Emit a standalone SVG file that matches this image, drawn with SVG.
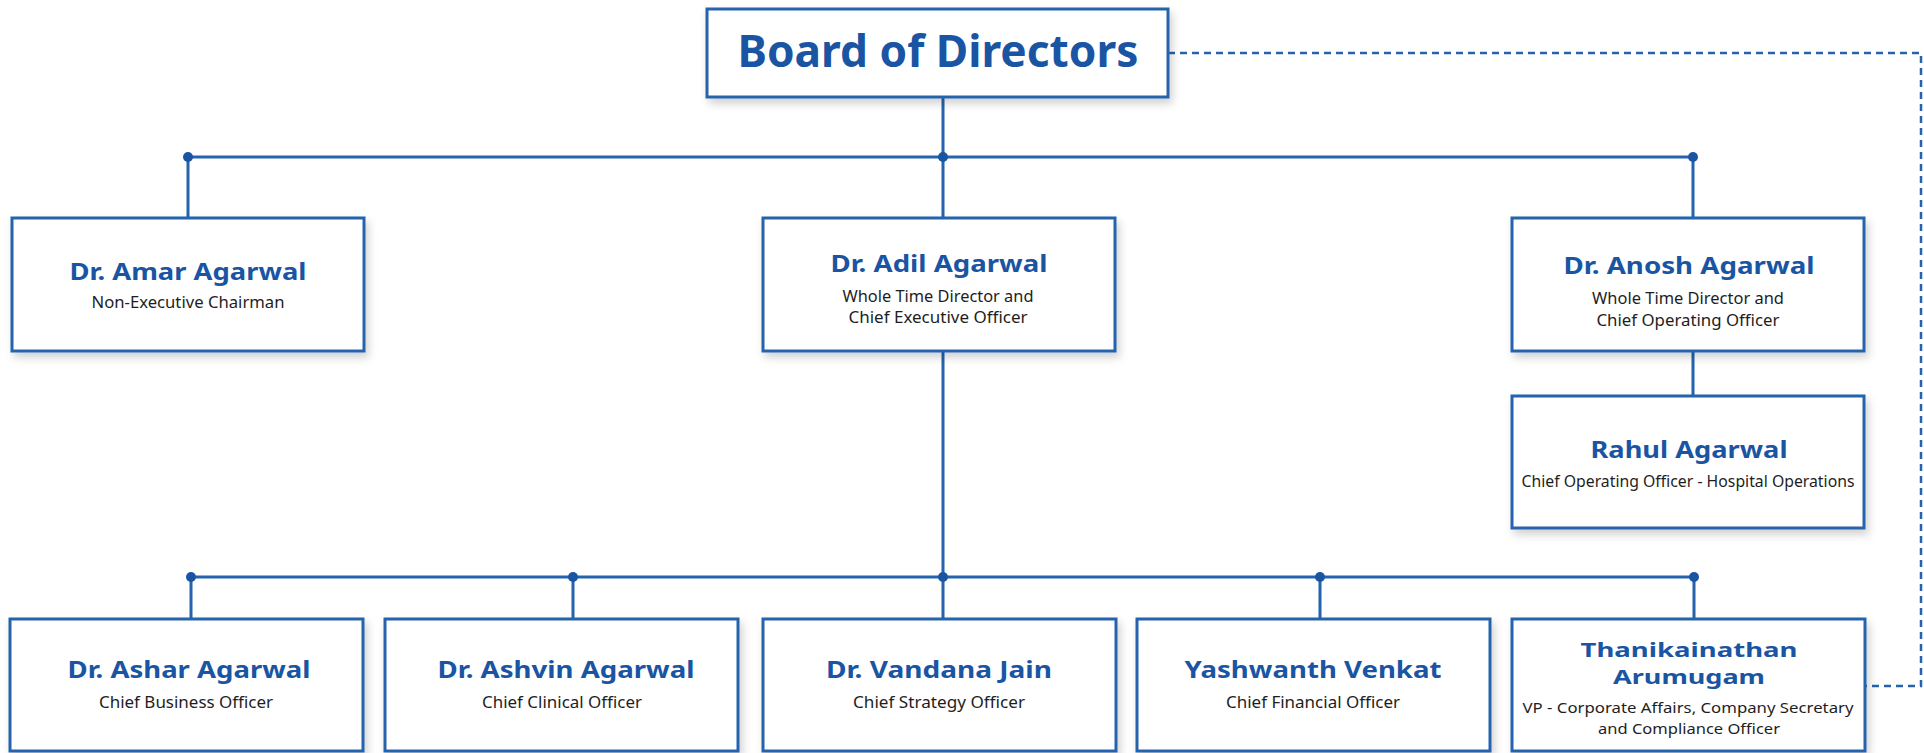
<svg xmlns="http://www.w3.org/2000/svg" width="1924" height="753" viewBox="0 0 1924 753">
<defs>
<filter id="sh" x="-5%" y="-5%" width="112%" height="120%">
<feDropShadow dx="3" dy="5" stdDeviation="4" flood-color="#000" flood-opacity="0.18"/>
</filter>
</defs>
<style>
.box{fill:#fff;stroke:#2563ad;stroke-width:3;filter:url(#sh)}
.t{font-family:"Noto Sans","Open Sans",sans-serif;font-weight:700;fill:#1a55a3;font-size:24px;text-anchor:middle}
.s{font-family:"Noto Sans","Open Sans",sans-serif;font-weight:400;fill:#1e1e1e;font-size:16px;text-anchor:middle}
.sm{font-size:14.5px}
.tm{font-size:20px}
.big{font-size:44px}
.ln{fill:none;stroke:#2563ad;stroke-width:3}
.dash{fill:none;stroke:#2563ad;stroke-width:2.5;stroke-dasharray:7 5}
.dot{fill:#1a55a3}
</style>
<rect width="1924" height="753" fill="#fff"/>
<g id="connectors">
<path class="ln" d="M943 97V157M188 157H1693M188 157V218M943 157V218M1693 157V218M1693 351V396M943 351V577M191 577H1694M191 577V619M573 577V619M943 577V619M1320 577V619M1694 577V619"/>
<path class="dash" d="M1168 53H1921V686H1866"/>
<circle class="dot" cx="188" cy="157" r="5"/>
<circle class="dot" cx="943" cy="157" r="5"/>
<circle class="dot" cx="1693" cy="157" r="5"/>
<circle class="dot" cx="191" cy="577" r="5"/>
<circle class="dot" cx="573" cy="577" r="5"/>
<circle class="dot" cx="943" cy="577" r="5"/>
<circle class="dot" cx="1320" cy="577" r="5"/>
<circle class="dot" cx="1694" cy="577" r="5"/>
</g>
<g id="board">
<rect class="box" x="707" y="9" width="461" height="88"/>
<text class="t big" x="938" y="67" textLength="401" lengthAdjust="spacingAndGlyphs">Board of Directors</text>
</g>
<g id="amar">
<rect class="box" x="12" y="218" width="352" height="133"/>
<text class="t" x="188" y="280" textLength="237" lengthAdjust="spacingAndGlyphs">Dr. Amar Agarwal</text>
<text class="s" x="188" y="308" textLength="193" lengthAdjust="spacingAndGlyphs">Non-Executive Chairman</text>
</g>
<g id="adil">
<rect class="box" x="763" y="218" width="352" height="133"/>
<text class="t" x="939" y="272" textLength="217" lengthAdjust="spacingAndGlyphs">Dr. Adil Agarwal</text>
<text class="s" x="938" y="302" textLength="191" lengthAdjust="spacingAndGlyphs">Whole Time Director and</text>
<text class="s" x="938" y="323" textLength="179" lengthAdjust="spacingAndGlyphs">Chief Executive Officer</text>
</g>
<g id="anosh">
<rect class="box" x="1512" y="218" width="352" height="133"/>
<text class="t" x="1689" y="274" textLength="251" lengthAdjust="spacingAndGlyphs">Dr. Anosh Agarwal</text>
<text class="s" x="1688" y="304" textLength="192" lengthAdjust="spacingAndGlyphs">Whole Time Director and</text>
<text class="s" x="1688" y="326" textLength="183" lengthAdjust="spacingAndGlyphs">Chief Operating Officer</text>
</g>
<g id="rahul">
<rect class="box" x="1512" y="396" width="352" height="132"/>
<text class="t" x="1689" y="458" textLength="197" lengthAdjust="spacingAndGlyphs">Rahul Agarwal</text>
<text class="s" x="1688" y="487" textLength="333" lengthAdjust="spacingAndGlyphs">Chief Operating Officer - Hospital Operations</text>
</g>
<g id="ashar">
<rect class="box" x="10" y="619" width="353" height="132"/>
<text class="t" x="189" y="678" textLength="243" lengthAdjust="spacingAndGlyphs">Dr. Ashar Agarwal</text>
<text class="s" x="186" y="708" textLength="174" lengthAdjust="spacingAndGlyphs">Chief Business Officer</text>
</g>
<g id="ashvin">
<rect class="box" x="385" y="619" width="353" height="132"/>
<text class="t" x="566" y="678" textLength="257" lengthAdjust="spacingAndGlyphs">Dr. Ashvin Agarwal</text>
<text class="s" x="562" y="708" textLength="160" lengthAdjust="spacingAndGlyphs">Chief Clinical Officer</text>
</g>
<g id="vandana">
<rect class="box" x="763" y="619" width="353" height="132"/>
<text class="t" x="939" y="678" textLength="226" lengthAdjust="spacingAndGlyphs">Dr. Vandana Jain</text>
<text class="s" x="939" y="708" textLength="172" lengthAdjust="spacingAndGlyphs">Chief Strategy Officer</text>
</g>
<g id="yashwanth">
<rect class="box" x="1137" y="619" width="353" height="132"/>
<text class="t" x="1313" y="678" textLength="257" lengthAdjust="spacingAndGlyphs">Yashwanth Venkat</text>
<text class="s" x="1313" y="708" textLength="174" lengthAdjust="spacingAndGlyphs">Chief Financial Officer</text>
</g>
<g id="thanikainathan">
<rect class="box" x="1512" y="619" width="353" height="132"/>
<text class="t tm" x="1689" y="657" textLength="217" lengthAdjust="spacingAndGlyphs">Thanikainathan</text>
<text class="t tm" x="1689" y="684" textLength="152" lengthAdjust="spacingAndGlyphs">Arumugam</text>
<text class="s sm" x="1688" y="713" textLength="331" lengthAdjust="spacingAndGlyphs">VP - Corporate Affairs, Company Secretary</text>
<text class="s sm" x="1689" y="734" textLength="182" lengthAdjust="spacingAndGlyphs">and Compliance Officer</text>
</g>
</svg>
